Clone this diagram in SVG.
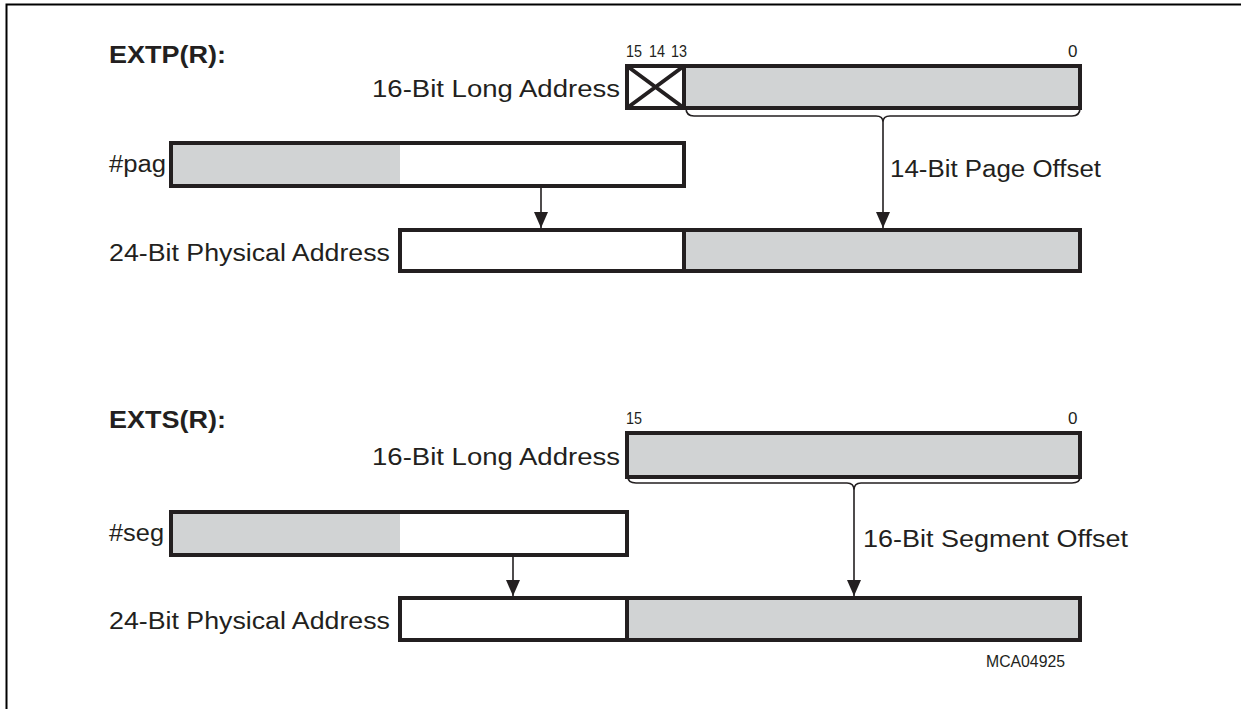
<svg xmlns="http://www.w3.org/2000/svg" width="1241" height="709" viewBox="0 0 1241 709">
<style>
.box{fill:none;stroke:#231f20;stroke-width:4}
.g{fill:#d1d3d4}
.w{fill:#fff}
.ln{fill:none;stroke:#231f20;stroke-width:1.6}
.t{font-family:"Liberation Sans",Arial,sans-serif;font-size:23px;fill:#231f20}
.b{font-family:"Liberation Sans",Arial,sans-serif;font-size:24px;font-weight:bold;fill:#231f20}
.s{font-family:"Liberation Sans",Arial,sans-serif;font-size:17px;fill:#231f20}
</style>
<defs>
<marker id="ah" markerWidth="16" markerHeight="14" refX="16" refY="7" orient="auto" markerUnits="userSpaceOnUse" viewBox="0 0 16 14">
<path d="M0,0 L16,7 L0,14 Z" fill="#231f20"/>
</marker>
</defs>
<rect width="1241" height="709" fill="#fff"/>
<path d="M6.5,709 V4.5 H1241" fill="none" stroke="#000" stroke-width="2"/>

<g id="extp-title"><text class="b" x="109" y="63" textLength="117" lengthAdjust="spacingAndGlyphs">EXTP(R):</text></g>
<g id="extp-bits">
<text class="s" x="626" y="57" textLength="16" lengthAdjust="spacingAndGlyphs">15</text>
<text class="s" x="649" y="57" textLength="16" lengthAdjust="spacingAndGlyphs">14</text>
<text class="s" x="671" y="57" textLength="16" lengthAdjust="spacingAndGlyphs">13</text>
<text class="s" x="1068" y="57">0</text>
</g>
<g id="extp-long">
<text class="t" x="372" y="97" textLength="248" lengthAdjust="spacingAndGlyphs">16-Bit Long Address</text>
<rect class="g" x="684" y="66" width="396" height="42"/>
<rect class="w" x="627" y="66" width="57" height="42"/>
<path class="box" d="M627,66 L684,108 M684,66 L627,108" stroke-width="2.5"/>
<rect class="box" x="627" y="66" width="453" height="42"/>
<line class="box" x1="684" y1="66" x2="684" y2="108"/>
</g>
<g id="extp-page">
<text class="t" x="109" y="172" textLength="57" lengthAdjust="spacingAndGlyphs">#pag</text>
<rect class="w" x="171" y="143" width="513" height="43"/>
<rect class="g" x="171" y="143" width="229" height="43"/>
<rect class="box" x="171" y="143" width="513" height="43"/>
</g>
<g id="extp-offset-label"><text class="t" x="890" y="177" textLength="211" lengthAdjust="spacingAndGlyphs">14-Bit Page Offset</text></g>
<g id="extp-phys">
<text class="t" x="109" y="261" textLength="281" lengthAdjust="spacingAndGlyphs">24-Bit Physical Address</text>
<rect class="w" x="400" y="230" width="284" height="41"/>
<rect class="g" x="684" y="230" width="396" height="41"/>
<rect class="box" x="400" y="230" width="680" height="41"/>
<line class="box" x1="684" y1="230" x2="684" y2="271"/>
</g>

<g id="exts-title"><text class="b" x="109" y="428" textLength="117" lengthAdjust="spacingAndGlyphs">EXTS(R):</text></g>
<g id="exts-bits">
<text class="s" x="626" y="424" textLength="16" lengthAdjust="spacingAndGlyphs">15</text>
<text class="s" x="1068" y="424">0</text>
</g>
<g id="exts-long">
<text class="t" x="372" y="465" textLength="248" lengthAdjust="spacingAndGlyphs">16-Bit Long Address</text>
<rect class="g" x="627" y="433" width="453" height="44"/>
<rect class="box" x="627" y="433" width="453" height="44"/>
</g>
<g id="exts-seg">
<text class="t" x="109" y="541" textLength="55" lengthAdjust="spacingAndGlyphs">#seg</text>
<rect class="w" x="171" y="512" width="456" height="43"/>
<rect class="g" x="171" y="512" width="229" height="43"/>
<rect class="box" x="171" y="512" width="456" height="43"/>
</g>
<g id="exts-offset-label"><text class="t" x="863" y="547" textLength="265" lengthAdjust="spacingAndGlyphs">16-Bit Segment Offset</text></g>
<g id="exts-phys">
<text class="t" x="109" y="629" textLength="281" lengthAdjust="spacingAndGlyphs">24-Bit Physical Address</text>
<rect class="w" x="400" y="598" width="227" height="42"/>
<rect class="g" x="627" y="598" width="453" height="42"/>
<rect class="box" x="400" y="598" width="680" height="42"/>
<line class="box" x1="627" y1="598" x2="627" y2="640"/>
</g>
<g id="figid"><text class="s" x="986" y="667" textLength="79" lengthAdjust="spacingAndGlyphs">MCA04925</text></g>

<g id="connectors">
<path class="ln" d="M686,108 Q686,116 694,116 H876 Q883,116 883,122 Q883,116 890,116 H1072 Q1080,116 1080,108"/>
<path class="ln" d="M883,122 V228" marker-end="url(#ah)"/>
<path class="ln" d="M541,186 V228" marker-end="url(#ah)"/>
<path class="ln" d="M628,477 Q628,483 636,483 H847 Q854,483 854,490 Q854,483 861,483 H1072 Q1080,483 1080,477"/>
<path class="ln" d="M854,490 V596" marker-end="url(#ah)"/>
<path class="ln" d="M513,555 V596" marker-end="url(#ah)"/>
</g>
</svg>
